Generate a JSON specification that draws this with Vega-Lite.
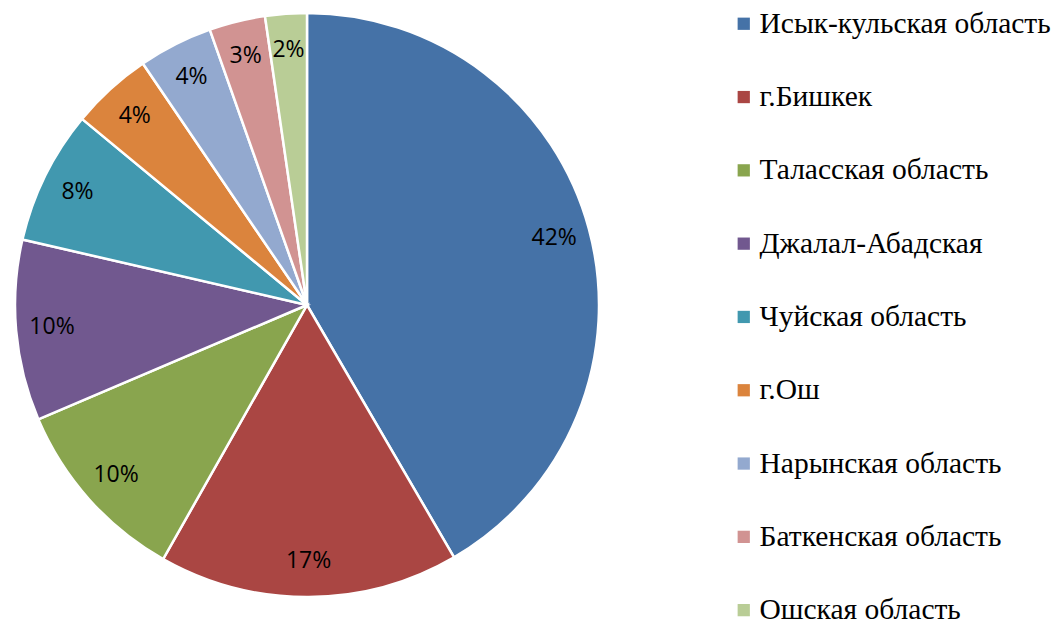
{
  "$schema": "https://vega.github.io/schema/vega-lite/v6.json",
  "width": 614,
  "height": 610,
  "padding": 0,
  "background": "white",
  "view": {"stroke": null},
  "data": {"values": [
    {"region": "Исык-кульская область", "value": 41.6, "label": "42%", "ord": 1},
    {"region": "г.Бишкек", "value": 16.6, "label": "17%", "ord": 2},
    {"region": "Таласская область", "value": 10.4, "label": "10%", "ord": 3},
    {"region": "Джалал-Абадская", "value": 10.0, "label": "10%", "ord": 4},
    {"region": "Чуйская область", "value": 7.4, "label": "8%", "ord": 5},
    {"region": "г.Ош", "value": 4.5, "label": "4%", "ord": 6},
    {"region": "Нарынская область", "value": 4.1, "label": "4%", "ord": 7},
    {"region": "Баткенская область", "value": 3.1, "label": "3%", "ord": 8},
    {"region": "Ошская область", "value": 2.3, "label": "2%", "ord": 9}
  ]},
  "encoding": {
    "theta": {"field": "value", "type": "quantitative", "stack": true},
    "order": {"field": "ord", "type": "quantitative"},
    "color": {
      "field": "region", "type": "nominal",
      "scale": {
        "domain": ["Исык-кульская область", "г.Бишкек", "Таласская область", "Джалал-Абадская", "Чуйская область", "г.Ош", "Нарынская область", "Баткенская область", "Ошская область"],
        "range": ["#4572A7", "#AA4643", "#89A54E", "#71588F", "#4198AF", "#DB843D", "#93A9CF", "#D19392", "#B9CD96"]
      },
      "legend": {
        "title": null,
        "orient": "none",
        "legendX": 729,
        "legendY": 9,
        "symbolType": "square",
        "symbolSize": 150,
        "symbolStrokeWidth": 0,
        "labelFont": "Liberation Serif",
        "labelFontSize": 29.5,
        "labelColor": "#000000",
        "labelOffset": 1,
        "labelLimit": 400,
        "rowPadding": 42.3
      }
    }
  },
  "layer": [
    {"mark": {"type": "arc", "outerRadius": 292, "stroke": "white", "strokeWidth": 2.5}},
    {"mark": {"type": "text", "radius": 256, "font": "Open Sans", "fontSize": 23, "fill": "black"},
     "encoding": {"text": {"field": "label"}, "color": {"value": "black"}}}
  ]
}
